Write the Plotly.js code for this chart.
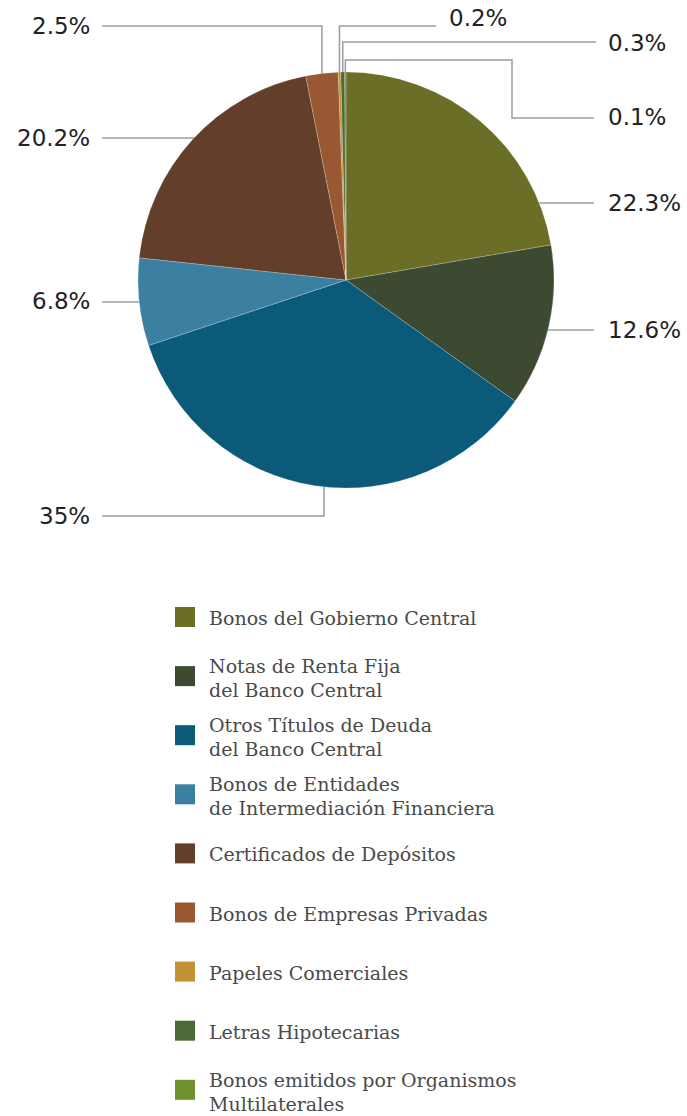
<!DOCTYPE html>
<html>
<head>
<meta charset="utf-8">
<script src="https://cdn.plot.ly/plotly-3.0.1.min.js"></script>
<style>html,body{margin:0;padding:0;background:#fff;}#chart{width:687px;height:1116px;}</style>
</head>
<body>
<div id="chart"></div>
<script>
// ---- data ----
const categories = [
  "Bonos del Gobierno Central",
  "Notas de Renta Fija<br>del Banco Central",
  "Otros Títulos de Deuda<br>del Banco Central",
  "Bonos de Entidades<br>de Intermediación Financiera",
  "Certificados de Depósitos",
  "Bonos de Empresas Privadas",
  "Papeles Comerciales",
  "Letras Hipotecarias",
  "Bonos emitidos por Organismos<br>Multilaterales"
];
const values = [22.3, 12.6, 35, 6.8, 20.2, 2.5, 0.2, 0.3, 0.1];
const colors = ["#6b6e26", "#3d4a32", "#0b5a7a", "#3b80a0", "#633f2b", "#9a5832", "#c39234", "#4a6b36", "#6f902d"];
const pctLabels = values.map(v => v + "%");

// ---- layout geometry ----
const W = 687, H = 1116;
const cx = 346, cy = 280, R = 208;
const px = x => x / W;
const py = y => 1 - y / H;

// label placement per slice (layout only)
const labelLayout = [
  {type: "hr", y: 203, end: 594, tx: 606, ty: 203, anchor: "left"},
  {type: "hr", y: 330, end: 594, tx: 606, ty: 330, anchor: "left"},
  {type: "bottom", x: 324, elbowY: 516, end: 102, tx: 92, ty: 516, anchor: "right"},
  {type: "hl", y: 302, end: 102, tx: 92, ty: 301, anchor: "right"},
  {type: "hl", y: 138, end: 102, tx: 92, ty: 138, anchor: "right"},
  {type: "top", elbowY: 26, pts: [[102, 26]], tx: 92, ty: 26, anchor: "right"},
  {type: "top", elbowY: 26, pts: [[436, 26]], tx: 447, ty: 18, anchor: "left"},
  {type: "top", elbowY: 42, pts: [[596, 42]], tx: 606, ty: 43, anchor: "left"},
  {type: "top", elbowY: 60, pts: [[512, 60], [512, 118], [594, 118]], tx: 606, ty: 117, anchor: "left"}
];

const total = values.reduce((a, b) => a + b, 0);
let cum = 0;
const midAngles = values.map(v => { const m = (cum + v / 2) / total * 2 * Math.PI; cum += v; return m; });

const shapes = [];
const annotations = [];
const lineStyle = {color: "#9c9c9c", width: 1.5};

function pathFrom(points) {
  return points.map((p, i) => (i ? "L" : "M") + px(p[0]).toFixed(5) + "," + py(p[1]).toFixed(5)).join(" ");
}

labelLayout.forEach((L, i) => {
  let pts = [];
  if (L.type === "hr") {
    const xe = cx + Math.sqrt(R * R - (L.y - cy) ** 2);
    pts = [[xe - 1, L.y], [L.end, L.y]];
  } else if (L.type === "hl") {
    const xe = cx - Math.sqrt(R * R - (L.y - cy) ** 2);
    pts = [[xe + 1, L.y], [L.end, L.y]];
  } else if (L.type === "bottom") {
    const ye = cy + Math.sqrt(R * R - (L.x - cx) ** 2);
    pts = [[L.x, ye - 1], [L.x, L.elbowY], [L.end, L.elbowY]];
  } else if (L.type === "top") {
    const x = cx + R * Math.sin(midAngles[i]);
    const ye = cy - Math.sqrt(R * R - (x - cx) ** 2);
    pts = [[x, ye + 1], [x, L.elbowY]].concat(L.pts);
  }
  shapes.push({type: "path", xref: "paper", yref: "paper", path: pathFrom(pts), line: lineStyle, layer: "below"});
  annotations.push({
    xref: "paper", yref: "paper", x: px(L.tx), y: py(L.ty),
    xanchor: L.anchor, yanchor: "middle", showarrow: false,
    text: pctLabels[i],
    font: {family: "DejaVu Sans, sans-serif", size: 23, color: "#222"}
  });
});

// ---- legend (manual, uniform spacing) ----
const legX = 175, legSq = 20, legTextX = 207, legY0 = 617, legStep = 59.1;
categories.forEach((c, i) => {
  const yc = legY0 + i * legStep;
  shapes.push({type: "rect", xref: "paper", yref: "paper",
    x0: px(legX), x1: px(legX + legSq), y0: py(yc - legSq / 2), y1: py(yc + legSq / 2),
    fillcolor: colors[i], line: {width: 0}});
  const lines = c.split("<br>");
  const n = lines.length;
  lines.forEach((t, k) => {
    const off = n === 1 ? 0 : (k === 0 ? -11 : 13);
    annotations.push({
      xref: "paper", yref: "paper", x: px(legTextX), y: py(yc + off + 1),
      xanchor: "left", yanchor: "middle", showarrow: false, text: t,
      font: {family: "DejaVu Serif, serif", size: 19, color: "#4a4a4a"}
    });
  });
});

const trace = {
  type: "pie",
  labels: categories,
  values: values,
  marker: {colors: colors, line: {color: "rgba(255,255,255,0.35)", width: 0.6}},
  sort: false,
  direction: "clockwise",
  rotation: 0,
  textinfo: "none",
  hoverinfo: "label+percent",
  showlegend: false,
  domain: {x: [px(cx - R), px(cx + R)], y: [py(cy + R), py(cy - R)]}
};

const layout = {
  width: W, height: H,
  margin: {l: 0, r: 0, t: 0, b: 0},
  paper_bgcolor: "#fff",
  showlegend: false,
  shapes: shapes,
  annotations: annotations
};

Plotly.newPlot("chart", [trace], layout, {displayModeBar: false, staticPlot: true});
</script>
</body>
</html>
